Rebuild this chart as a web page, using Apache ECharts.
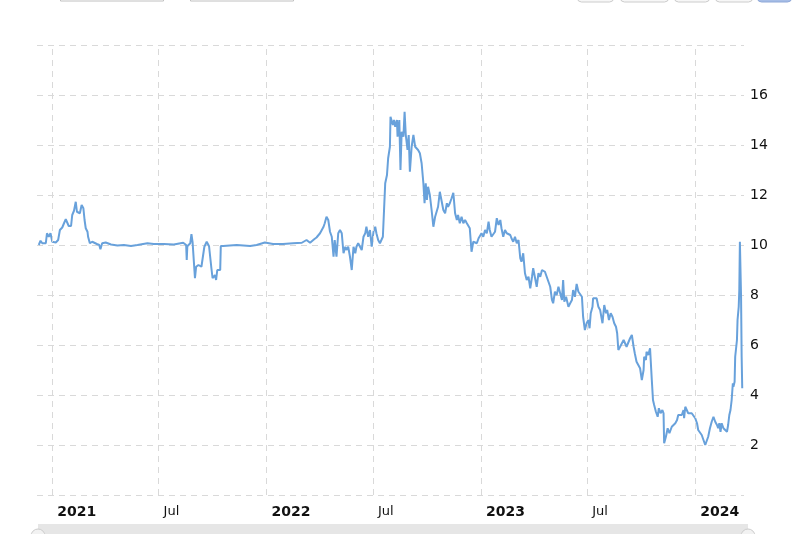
<!DOCTYPE html>
<html>
<head>
<meta charset="utf-8">
<script src="https://cdn.jsdelivr.net/npm/echarts@6/dist/echarts.min.js"></script>
<style>
html,body{margin:0;padding:0;background:#fff;}
#chart{width:800px;height:534px;}
</style>
</head>
<body>
<div id="chart"></div>
<script>
// ---- data ----
const dates = [
'2020-12-09','2020-12-12','2020-12-15','2020-12-21','2020-12-23','2020-12-26','2020-12-29','2021-01-01','2021-01-07','2021-01-11',
'2021-01-14','2021-01-18','2021-01-21','2021-01-24','2021-01-27','2021-01-29','2021-02-02','2021-02-04','2021-02-07','2021-02-10',
'2021-02-12','2021-02-14','2021-02-17','2021-02-20','2021-02-23','2021-02-25','2021-02-27','2021-03-02','2021-03-03','2021-03-06',
'2021-03-10','2021-03-13','2021-03-18','2021-03-22','2021-03-24','2021-03-27','2021-04-02','2021-04-11','2021-04-22','2021-05-03',
'2021-05-15','2021-05-26','2021-06-12','2021-06-23','2021-07-10','2021-07-27','2021-08-12','2021-08-17','2021-08-18','2021-08-19',
'2021-08-24','2021-08-26','2021-08-28','2021-08-30','2021-09-01','2021-09-03','2021-09-07','2021-09-12','2021-09-15','2021-09-17',
'2021-09-21','2021-09-25','2021-09-28','2021-09-29','2021-10-01','2021-10-05','2021-10-07','2021-10-09','2021-10-14','2021-10-15',
'2021-10-19','2021-11-11','2021-12-04','2021-12-15','2021-12-29','2022-01-12','2022-01-29','2022-02-15','2022-03-02','2022-03-10',
'2022-03-16','2022-03-23','2022-03-27','2022-04-02','2022-04-08','2022-04-10','2022-04-13','2022-04-16','2022-04-19','2022-04-22',
'2022-04-25','2022-04-27','2022-04-30','2022-05-03','2022-05-06','2022-05-09','2022-05-12','2022-05-15','2022-05-17','2022-05-20',
'2022-05-23','2022-05-26','2022-05-29','2022-06-01','2022-06-03','2022-06-06','2022-06-09','2022-06-12','2022-06-15','2022-06-18',
'2022-06-20','2022-06-23','2022-06-26','2022-06-29','2022-07-02','2022-07-05','2022-07-07','2022-07-10','2022-07-13','2022-07-18',
'2022-07-20','2022-07-22','2022-07-25','2022-07-27','2022-07-30','2022-07-31','2022-08-04','2022-08-06','2022-08-08','2022-08-11',
'2022-08-12','2022-08-15','2022-08-17','2022-08-19','2022-08-22','2022-08-24','2022-08-26','2022-08-29','2022-08-31','2022-09-02',
'2022-09-05','2022-09-08','2022-09-11','2022-09-14','2022-09-16','2022-09-19','2022-09-22','2022-09-25','2022-09-27','2022-09-29',
'2022-10-01','2022-10-03','2022-10-06','2022-10-09','2022-10-12','2022-10-15','2022-10-18','2022-10-20','2022-10-23','2022-10-26',
'2022-10-29','2022-11-01','2022-11-04','2022-11-06','2022-11-09','2022-11-12','2022-11-15','2022-11-18','2022-11-21','2022-11-23',
'2022-11-26','2022-11-29','2022-12-02','2022-12-05','2022-12-08','2022-12-11','2022-12-13','2022-12-16','2022-12-19','2022-12-22',
'2022-12-25','2022-12-28','2022-12-30','2023-01-02','2023-01-05','2023-01-08','2023-01-11','2023-01-14','2023-01-16','2023-01-19',
'2023-01-22','2023-01-25','2023-01-28','2023-01-31','2023-02-03','2023-02-05','2023-02-08','2023-02-11','2023-02-14','2023-02-17',
'2023-02-20','2023-02-22','2023-02-25','2023-02-28','2023-03-03','2023-03-06','2023-03-09','2023-03-11','2023-03-14','2023-03-17',
'2023-03-20','2023-03-23','2023-03-26','2023-03-29','2023-03-31','2023-04-03','2023-04-06','2023-04-09','2023-04-12','2023-04-15',
'2023-04-17','2023-04-20','2023-04-23','2023-04-26','2023-04-29','2023-05-02','2023-05-04','2023-05-07','2023-05-10','2023-05-13',
'2023-05-16','2023-05-19','2023-05-21','2023-05-23','2023-05-26','2023-05-30','2023-06-02','2023-06-05','2023-06-07','2023-06-10',
'2023-06-13','2023-06-16','2023-06-19','2023-06-22','2023-06-24','2023-06-27','2023-06-30','2023-07-03','2023-07-05','2023-07-07',
'2023-07-10','2023-07-11','2023-07-14','2023-07-17','2023-07-20','2023-07-23','2023-07-26','2023-07-27','2023-07-30','2023-08-02',
'2023-08-04','2023-08-07','2023-08-10','2023-08-13','2023-08-16','2023-08-19','2023-08-21','2023-08-23','2023-08-26','2023-08-29',
'2023-09-01','2023-09-03','2023-09-06','2023-09-09','2023-09-12','2023-09-15','2023-09-18','2023-09-20','2023-09-23','2023-09-26',
'2023-09-29','2023-10-02','2023-10-05','2023-10-06','2023-10-09','2023-10-10','2023-10-13','2023-10-16','2023-10-18','2023-10-19',
'2023-10-21','2023-10-23','2023-10-26','2023-10-29','2023-10-31','2023-11-03','2023-11-06','2023-11-08','2023-11-09','2023-11-12',
'2023-11-15','2023-11-18','2023-11-22','2023-11-25','2023-11-28','2023-12-01','2023-12-03','2023-12-06','2023-12-09','2023-12-12',
'2023-12-13','2023-12-15','2023-12-18','2023-12-20','2023-12-23','2023-12-26','2023-12-29','2024-01-01','2024-01-04','2024-01-06',
'2024-01-09','2024-01-12','2024-01-15','2024-01-18','2024-01-21','2024-01-23','2024-01-26','2024-01-29','2024-02-01','2024-02-04',
'2024-02-07','2024-02-09','2024-02-11','2024-02-13','2024-02-15','2024-02-18','2024-02-21','2024-02-24','2024-02-26','2024-02-28',
'2024-03-01','2024-03-03','2024-03-05','2024-03-06','2024-03-08','2024-03-09','2024-03-12','2024-03-13','2024-03-15','2024-03-16',
'2024-03-17','2024-03-19','2024-03-20','2024-03-21'
];
const prices = [
10.0,10.17,10.07,10.07,10.47,10.33,10.47,10.13,10.1,10.2,
10.6,10.7,10.87,11.03,10.87,10.76,10.76,11.2,11.37,11.73,
11.33,11.4,11.27,11.6,11.47,11.0,10.67,10.53,10.33,10.07,
10.13,10.17,10.04,10.0,9.83,10.07,10.1,10.02,9.98,10.0,
9.96,10.0,10.07,10.04,10.04,10.02,10.09,10.0,9.4,9.95,
10.07,10.43,10.1,10.05,8.67,9.13,9.2,9.13,9.07,9.93,
10.13,9.95,9.87,9.07,8.67,8.8,8.6,9.0,9.0,9.96,
9.96,10.0,9.96,10.0,10.1,10.04,10.04,10.07,10.09,10.2,
10.09,10.23,10.3,10.47,10.73,10.87,11.13,11.0,10.53,10.33,
9.53,10.2,9.53,10.47,10.6,10.47,9.67,9.93,9.8,9.93,
9.53,9.0,9.93,9.67,9.93,10.07,10.13,9.8,10.33,10.47,
10.73,10.33,10.6,9.93,10.53,10.73,10.47,10.2,10.07,10.33,
11.4,12.47,12.8,13.47,13.93,15.13,14.8,15.0,14.73,15.0,
14.33,15.0,13.0,14.53,14.33,15.33,14.4,13.8,14.4,12.93,
13.93,14.4,13.93,14.0,13.8,13.67,13.27,12.47,11.67,12.47,
11.8,12.33,12.0,11.4,10.73,11.13,11.07,11.53,12.13,12.2,
11.4,11.27,11.67,11.53,11.67,11.87,12.09,11.27,11.0,11.2,
10.87,11.13,10.87,11.0,10.87,10.93,10.67,9.73,10.13,10.2,
10.07,10.27,10.2,10.47,10.33,10.6,10.47,10.93,10.6,10.33,
10.27,10.53,11.07,10.8,11.0,10.67,10.33,10.6,10.47,10.4,
10.4,10.27,10.13,10.33,10.07,10.2,9.47,9.33,9.67,8.87,
8.6,8.73,8.27,8.73,9.07,9.0,8.33,8.87,8.73,9.0,
9.0,8.93,8.73,8.53,8.33,7.8,7.67,8.13,8.0,8.33,
8.27,7.8,8.6,7.73,7.93,7.53,7.67,7.8,8.2,7.93,
8.44,8.13,8.07,7.93,7.13,6.6,6.87,7.0,6.67,7.27,
7.53,7.87,7.8,7.87,7.53,7.4,7.47,6.87,7.6,7.27,
7.4,7.0,7.27,7.13,6.87,6.73,6.47,5.8,5.93,6.0,
6.2,6.27,5.93,5.87,6.27,6.4,5.93,5.67,5.33,5.2,
5.07,4.6,5.0,5.53,5.4,5.73,5.6,5.87,5.87,4.6,
3.8,3.6,3.33,3.13,3.47,3.27,3.4,3.27,2.07,2.33,
2.67,2.47,2.73,2.67,2.87,3.0,3.2,3.13,3.2,3.4,
3.07,3.53,3.6,3.27,3.33,3.27,3.2,3.07,2.87,2.6,
2.53,2.4,2.2,2.0,2.07,2.33,2.67,2.93,3.13,2.93,
2.8,2.67,2.87,2.53,2.87,2.67,2.6,2.53,2.8,3.2,
3.4,3.8,4.47,4.33,4.53,5.53,6.2,7.0,7.53,8.2,
10.13,7.93,5.53,4.27
];
const yTicks = [2, 4, 6, 8, 10, 12, 14, 16];
const xTicks = ['2021-01-01', '2021-07-01', '2022-01-01', '2022-07-01', '2023-01-01', '2023-07-01', '2024-01-01'];
const yearLabelMonth = 0;      // January ticks -> year label
const midYearLabel = 'Jul';    // July ticks -> 'Jul'
const xMin = '2020-12-06';
const xMax = '2024-03-24';

const chart = echarts.init(document.getElementById('chart'), null, {renderer: 'canvas'});
const gridColor = '#d9d9d9';
const DAY = 24 * 3600 * 1000;

const option = {
  animation: false,
  backgroundColor: '#ffffff',
  grid: {left: 37, right: 56, top: 45, bottom: 39, containLabel: false},
  xAxis: {
    type: 'time',
    min: xMin,
    max: xMax,
    minInterval: 180 * DAY,
    maxInterval: 186 * DAY,
    axisLine: {show: false},
    axisTick: {show: false},
    splitLine: {show: false},
    axisLabel: {
      showMinLabel: false,
      showMaxLabel: false,
      margin: 10,
      align: 'left',
      padding: [0, 0, 0, 5],
      hideOverlap: false,
      formatter: function (val) {
        const d = new Date(val);
        if (d.getDate() !== 1) return '';
        if (d.getMonth() === yearLabelMonth) return '{y|' + d.getFullYear() + '}';
        if (d.getMonth() === 6) return '{m|' + midYearLabel + '}';
        return '';
      },
      rich: {
        y: {fontFamily: 'DejaVu Sans', fontSize: 14, fontWeight: 'bold', color: '#111'},
        m: {fontFamily: 'DejaVu Sans', fontSize: 13, color: '#111'}
      }
    }
  },
  yAxis: {
    type: 'value',
    position: 'right',
    min: 0,
    max: 18,
    interval: 2,
    axisLine: {show: false},
    axisTick: {show: false},
    splitLine: {show: true, lineStyle: {color: gridColor, type: [6, 5], width: 1}},
    axisLabel: {
      margin: 6,
      fontFamily: 'DejaVu Sans',
      fontSize: 14,
      color: '#111',
      formatter: function (v) { return yTicks.indexOf(v) >= 0 ? String(v) : ''; }
    }
  },
  series: [
    {
      type: 'line',
      data: [],
      silent: true,
      markLine: {
        silent: true,
        symbol: ['none', 'none'],
        label: {show: false},
        animation: false,
        lineStyle: {color: gridColor, type: [6, 5], width: 1},
        data: xTicks.map(t => ({xAxis: t}))
      }
    },
    {
      type: 'line',
      data: dates.map((d, i) => [d, prices[i]]),
      showSymbol: false,
      symbol: 'none',
      lineStyle: {color: '#68a1db', width: 2},
      itemStyle: {color: '#68a1db'}
    }
  ],
  graphic: [
    {type: 'rect', shape: {x: 60.5, y: -20, width: 103, height: 21}, style: {fill: '#fff', stroke: '#c0c0c0', lineWidth: 1}},
    {type: 'rect', shape: {x: 190.5, y: -20, width: 103, height: 21}, style: {fill: '#fff', stroke: '#c0c0c0', lineWidth: 1}},
    {type: 'rect', shape: {x: 577.5, y: -20, width: 36, height: 22, r: 4}, style: {fill: '#f7f7f7', stroke: '#cccccc', lineWidth: 1}},
    {type: 'rect', shape: {x: 620.5, y: -20, width: 48, height: 22, r: 4}, style: {fill: '#f7f7f7', stroke: '#cccccc', lineWidth: 1}},
    {type: 'rect', shape: {x: 674.5, y: -20, width: 35, height: 22, r: 4}, style: {fill: '#f7f7f7', stroke: '#cccccc', lineWidth: 1}},
    {type: 'rect', shape: {x: 715.5, y: -20, width: 37, height: 22, r: 4}, style: {fill: '#f7f7f7', stroke: '#cccccc', lineWidth: 1}},
    {type: 'rect', shape: {x: 757.5, y: -20, width: 34, height: 22, r: 4}, style: {fill: '#a6bde6', stroke: '#8fa8d8', lineWidth: 1}},
    {type: 'rect', shape: {x: 38, y: 524, width: 710, height: 14}, style: {fill: '#e6e6e6'}},
    {type: 'circle', shape: {cx: 38, cy: 536, r: 7}, style: {fill: '#f2f2f2', stroke: '#cccccc', lineWidth: 1}},
    {type: 'circle', shape: {cx: 748, cy: 536, r: 7}, style: {fill: '#f2f2f2', stroke: '#cccccc', lineWidth: 1}}
  ]
};
chart.setOption(option);
</script>
</body>
</html>
